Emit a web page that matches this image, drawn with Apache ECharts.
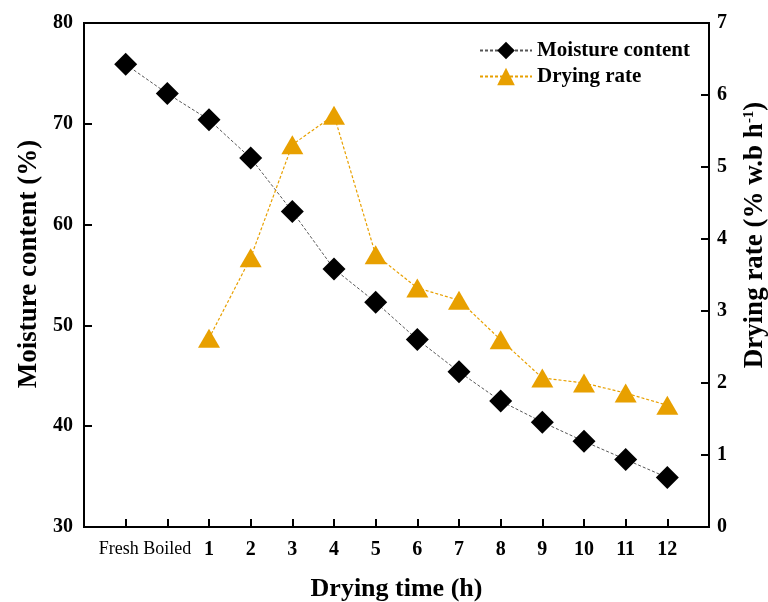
<!DOCTYPE html>
<html>
<head>
<meta charset="utf-8">
<script src="https://cdn.jsdelivr.net/npm/echarts@6/dist/echarts.min.js"></script>
<style>
  html, body { margin: 0; padding: 0; background: #fff; }
  #main { width: 768px; height: 602px; }
</style>
</head>
<body>
<div id="main"></div>
<script>
// 数据
var categories = ['Fresh', 'Boiled', '1', '2', '3', '4', '5', '6', '7', '8', '9', '10', '11', '12'];
var moisture = [75.9, 73.0, 70.4, 66.6, 61.3, 55.6, 52.3, 48.6, 45.4, 42.5, 40.4, 38.5, 36.7, 34.9];
var dryingRate = [null, null, 2.62, 3.74, 5.31, 5.72, 3.78, 3.32, 3.15, 2.6, 2.07, 2.0, 1.86, 1.69];
var leftTicks = [30, 40, 50, 60, 70, 80];
var rightTicks = [0, 1, 2, 3, 4, 5, 6, 7];

var FONT = '"Liberation Serif", "Times New Roman", serif';

// 两端留空的类目
var axisData = [''].concat(categories).concat(['']);
function pad(arr) { return [null].concat(arr).concat([null]); }

var chart = echarts.init(document.getElementById('main'));
var option = {
    animation: false,
    textStyle: { fontFamily: FONT },
    grid: {
        left: 84, right: 59, top: 23, bottom: 75,
        outerBoundsMode: 'none',
        containLabel: false,
        show: true, borderColor: '#000', borderWidth: 2
    },
    legend: {
        orient: 'vertical',
        left: 474, top: 35,
        itemWidth: 52, itemHeight: 22, itemGap: 5,
        textStyle: { fontFamily: FONT, fontWeight: 'bold', fontSize: 21, color: '#000' },
        data: ['Moisture content', 'Drying rate']
    },
    xAxis: {
        type: 'category',
        boundaryGap: false,
        data: axisData,
        name: 'Drying time (h)',
        nameLocation: 'middle',
        nameGap: 49,
        nameTextStyle: { fontFamily: FONT, fontWeight: 'bold', fontSize: 26, color: '#000', verticalAlign: 'top' },
        axisLine: { lineStyle: { color: '#000', width: 2 } },
        axisTick: { inside: true, length: 8, lineStyle: { color: '#000', width: 2 }, alignWithLabel: true },
        axisLabel: {
            interval: 0,
            margin: 13,
            formatter: function (v) {
                if (v === 'Fresh') return '{f|' + v + '}';
                if (v === 'Boiled') return '{s|' + v + '}';
                return '{b|' + v + '}';
            },
            rich: {
                f: { fontFamily: FONT, fontSize: 18, color: '#000', padding: [0, 14, 0, 0] },
                s: { fontFamily: FONT, fontSize: 18, color: '#000' },
                b: { fontFamily: FONT, fontSize: 20, fontWeight: 'bold', color: '#000' }
            }
        },
        splitLine: { show: false }
    },
    yAxis: [{
        type: 'value',
        min: leftTicks[0], max: leftTicks[leftTicks.length - 1], interval: 10,
        name: 'Moisture content (%)',
        nameLocation: 'middle',
        nameRotate: 90,
        nameGap: 41,
        nameTextStyle: { fontFamily: FONT, fontWeight: 'bold', fontSize: 27, color: '#000', padding: [0, 0, 0, 22] },
        axisLine: { show: true, lineStyle: { color: '#000', width: 2 } },
        axisTick: { show: true, inside: true, length: 8, lineStyle: { color: '#000', width: 2 } },
        axisLabel: { fontFamily: FONT, fontSize: 20, fontWeight: 'bold', color: '#000', margin: 11 },
        splitLine: { show: false }
    }, {
        type: 'value',
        position: 'right',
        min: rightTicks[0], max: rightTicks[rightTicks.length - 1], interval: 1,
        name: '{n|Drying rate (% w.b h}{sup|-1}{n|)}',
        nameLocation: 'middle',
        nameRotate: 90,
        nameGap: 33,
        nameTextStyle: {
            padding: [0, 0, 0, 80],
            rich: {
                n: { fontFamily: FONT, fontWeight: 'bold', fontSize: 27, color: '#000' },
                sup: { fontFamily: FONT, fontWeight: 'bold', fontSize: 15, color: '#000', verticalAlign: 'top', padding: [0, 0, 12, 0] }
            }
        },
        axisLine: { show: true, lineStyle: { color: '#000', width: 2 } },
        axisTick: { show: true, inside: true, length: 8, lineStyle: { color: '#000', width: 2 } },
        axisLabel: { fontFamily: FONT, fontSize: 20, fontWeight: 'bold', color: '#000', margin: 8 },
        splitLine: { show: false }
    }],
    series: [{
        name: 'Moisture content',
        type: 'line',
        yAxisIndex: 0,
        data: pad(moisture),
        symbol: 'diamond',
        symbolSize: 23,
        itemStyle: { color: '#000' },
        lineStyle: { color: '#555', width: 1, type: [3, 2] }
    }, {
        name: 'Drying rate',
        type: 'line',
        yAxisIndex: 1,
        data: pad(dryingRate),
        symbol: 'triangle',
        symbolSize: [22, 19],
        itemStyle: { color: '#E8A000' },
        lineStyle: { color: '#E8A000', width: 1.2, type: [3, 2] }
    }]
};
chart.setOption(option);
</script>
</body>
</html>
